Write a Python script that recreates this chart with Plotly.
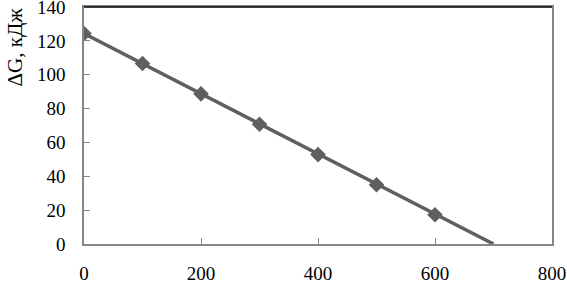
import plotly.graph_objects as go

temps = [0, 100, 200, 300, 400, 500, 600]
dG = [124.3, 106.6, 88.7, 70.7, 52.8, 35.0, 17.3]
trend_x = [0, 700]
trend_y = [124.3, 0]

fig = go.Figure()
fig.add_trace(go.Scatter(x=trend_x, y=trend_y, mode="lines",
                         line=dict(color="#5f5f5f", width=3.5), showlegend=False))
fig.add_trace(go.Scatter(x=temps, y=dG, mode="markers",
                         marker=dict(symbol="diamond", size=12, color="#5f5f5f"),
                         showlegend=False))

font = dict(family="'Times New Roman', 'Liberation Serif', Times, serif", size=19, color="black")
axcommon = dict(showgrid=False, zeroline=False, showline=True, linecolor="#868686",
                linewidth=1.5, mirror=True, ticks="inside", ticklen=6, tickcolor="#868686",
                automargin=False, ticklabeloverflow="allow", tickfont=font)
fig.update_layout(
    width=567, height=283,
    margin=dict(l=84, r=15, t=7, b=39),
    plot_bgcolor="white", paper_bgcolor="white",
    font=font,
    xaxis=dict(range=[0, 800], tickvals=[0, 200, 400, 600, 800], ticklabelstandoff=11, **axcommon),
    yaxis=dict(range=[0, 140], tickvals=[0, 20, 40, 60, 80, 100, 120, 140], ticklabelstandoff=13, **axcommon),
)
fig.add_shape(type="line", xref="paper", yref="paper", x0=0, x1=1, y0=1, y1=1,
              line=dict(color="black", width=1.5))
fig.add_annotation(text="ΔG, кДж", xref="paper", yref="paper", x=-0.147, y=0.655,
                   xanchor="center", yanchor="bottom", textangle=-90, showarrow=False,
                   font=dict(family=font["family"], size=21, color="black"))
fig.write_html("out.html", config={"displayModeBar": False},
               post_script="document.body.style.margin='0';document.body.style.overflow='hidden';")
